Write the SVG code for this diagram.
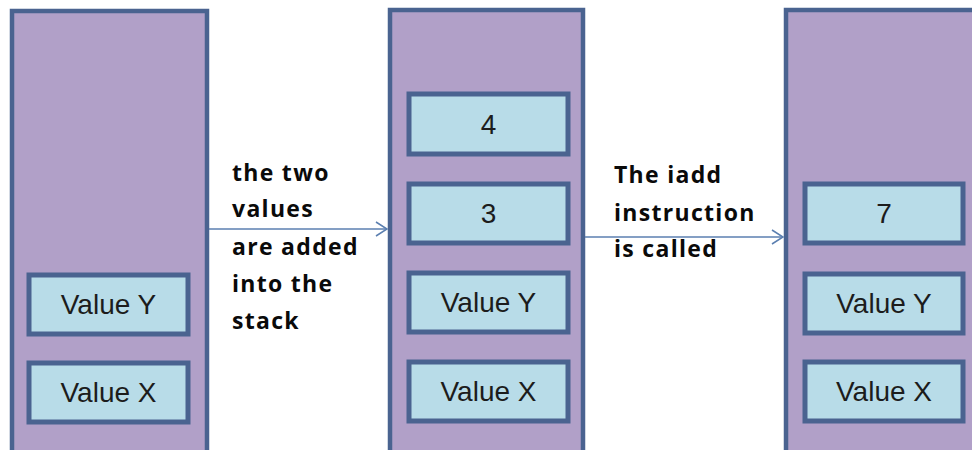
<svg xmlns="http://www.w3.org/2000/svg" width="972" height="450" viewBox="0 0 972 450">
<style>
.stack{fill:#b1a0c8;stroke:#4a6390;stroke-width:4.5}
.cell{fill:#b8dce8;stroke:#4a6390;stroke-width:5}
.val{font-family:"Liberation Sans",Arial,sans-serif;font-size:28px;fill:#1c1c1c;text-anchor:middle}
.lbl{font-family:"Open Sans","Liberation Sans",sans-serif;font-weight:bold;font-size:23px;letter-spacing:1.3px;fill:#0a0a0a}
.conn{stroke:#5b7fb0;stroke-width:1.5;fill:none}
</style>
<defs>
<marker id="arr" markerWidth="14" markerHeight="16" refX="12" refY="8" orient="auto" markerUnits="userSpaceOnUse">
<path d="M1,1 L12,8 L1,15" fill="none" stroke="#5b7fb0" stroke-width="1.5"/>
</marker>
</defs>
<rect width="972" height="450" fill="#ffffff"/>
<g id="stack1">
<rect class="stack" x="12" y="11" width="195" height="460"/>
<g id="s1-valueY"><rect class="cell" x="29" y="275" width="159" height="59"/><text class="val" x="108.5" y="314">Value Y</text></g>
<g id="s1-valueX"><rect class="cell" x="29" y="363" width="159" height="59"/><text class="val" x="108.5" y="402">Value X</text></g>
</g>
<g id="stack2">
<rect class="stack" x="390" y="10" width="193" height="460"/>
<g id="s2-4"><rect class="cell" x="409" y="94" width="159" height="60"/><text class="val" x="488.5" y="134">4</text></g>
<g id="s2-3"><rect class="cell" x="409" y="184" width="159" height="59"/><text class="val" x="488.5" y="223">3</text></g>
<g id="s2-valueY"><rect class="cell" x="409" y="273" width="159" height="59"/><text class="val" x="488.5" y="312">Value Y</text></g>
<g id="s2-valueX"><rect class="cell" x="409" y="362" width="159" height="59"/><text class="val" x="488.5" y="401">Value X</text></g>
</g>
<g id="stack3">
<rect class="stack" x="786" y="10" width="200" height="460"/>
<g id="s3-7"><rect class="cell" x="805" y="184" width="158" height="59"/><text class="val" x="884" y="223">7</text></g>
<g id="s3-valueY"><rect class="cell" x="805" y="274" width="158" height="59"/><text class="val" x="884" y="313">Value Y</text></g>
<g id="s3-valueX"><rect class="cell" x="805" y="362" width="158" height="59"/><text class="val" x="884" y="401">Value X</text></g>
</g>
<g id="connectors">
<line class="conn" x1="209" y1="229" x2="387" y2="229" marker-end="url(#arr)"/>
<line class="conn" x1="585" y1="237" x2="783" y2="237" marker-end="url(#arr)"/>
</g>
<g id="label1">
<text class="lbl" x="232" y="181">the two</text>
<text class="lbl" x="232" y="217">values</text>
<text class="lbl" x="232" y="255">are added</text>
<text class="lbl" x="232" y="292">into the</text>
<text class="lbl" x="232" y="329">stack</text>
</g>
<g id="label2">
<text class="lbl" x="614" y="183">The iadd</text>
<text class="lbl" x="614" y="221">instruction</text>
<text class="lbl" x="614" y="257">is called</text>
</g>
</svg>
